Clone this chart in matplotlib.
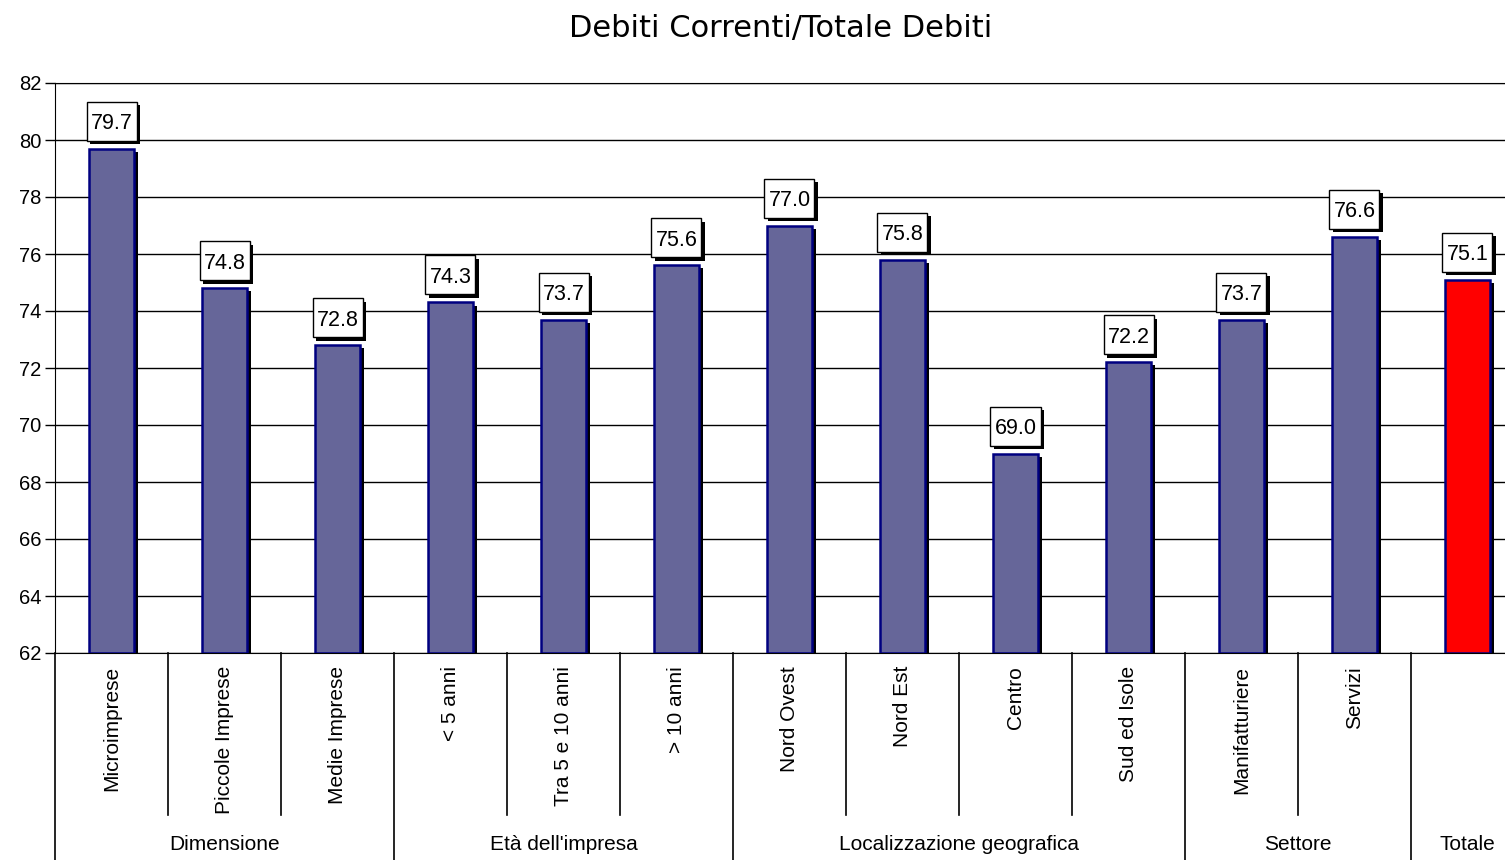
import matplotlib
matplotlib.use("Agg")
import matplotlib.pyplot as plt
import matplotlib.patheffects as pe
import matplotlib.transforms as mtransforms
from matplotlib.patches import Rectangle

plt.rcParams['font.family'] = ['Liberation Sans', 'DejaVu Sans']

# categories and values
categories = ["Microimprese", "Piccole Imprese", "Medie Imprese",
              "< 5 anni", "Tra 5 e 10 anni", "> 10 anni",
              "Nord Ovest", "Nord Est", "Centro", "Sud ed Isole",
              "Manifatturiere", "Servizi", ""]
values = [79.7, 74.8, 72.8, 74.3, 73.7, 75.6, 77.0, 75.8, 69.0, 72.2, 73.7, 76.6, 75.1]
groups = ["Dimensione", "Età dell'impresa", "Localizzazione geografica", "Settore", "Totale"]
group_sizes = [3, 3, 4, 2, 1]

ymin, ymax = 62, 82
bar_color = "#666699"
total_color = "#ff0000"

fig = plt.figure(figsize=(15.05, 8.6), dpi=100)
W, H = 1505, 860
# plot area in pixels: left 55, top 83, bottom 653, one slot = 113 px
ax = fig.add_axes([55 / W, (H - 653) / H, 1469 / W, 570 / H])

n = len(values)
xs = list(range(n))
colors = [bar_color] * (n - 1) + [total_color]
heights = [v - ymin for v in values]

bars = ax.bar(xs, heights, bottom=ymin, width=0.4, color=colors,
              edgecolor="#000080", linewidth=1.8, zorder=3)
for b in bars:
    b.set_path_effects([pe.SimplePatchShadow(offset=(2.5, -2.2), shadow_rgbFace="black", alpha=1.0),
                        pe.Normal()])

# value labels: fixed-size boxes (inches) anchored above each bar top
box_w, box_h, gap = 0.50, 0.39, 0.08
for x, v in zip(xs, values):
    tr = fig.dpi_scale_trans + mtransforms.ScaledTranslation(x, v, ax.transData)
    box = Rectangle((-box_w / 2, gap), box_w, box_h, transform=tr, fc="white",
                    ec="black", lw=1.0, zorder=5, clip_on=False)
    box.set_path_effects([pe.SimplePatchShadow(offset=(2.4, -2.4), shadow_rgbFace="black", alpha=1.0),
                          pe.Normal()])
    ax.add_patch(box)
    ax.text(0, gap + box_h / 2, "%.1f" % v, transform=tr, ha="center",
            va="center_baseline", fontsize=15.5, zorder=6)

ax.set_xlim(-0.5, n - 0.5)
ax.set_ylim(ymin, ymax)
ax.set_yticks(range(ymin, ymax + 1, 2))
ax.tick_params(axis="y", labelsize=14.5, length=7, width=1, pad=3, direction="out")
ax.set_xticks([])
ax.yaxis.grid(True, color="black", linewidth=1.0)
ax.set_axisbelow(True)
ax.spines["right"].set_visible(False)
ax.spines["left"].set_bounds(ymin, ymax)

# hierarchical category axis below the plot
trans = mtransforms.blended_transform_factory(ax.transData, ax.transAxes)
inner_bottom = -(815 - 653) / 570
outer_bottom = -(862 - 653) / 570
ax.plot([-0.5, -0.5], [0, outer_bottom], color="black", lw=1.2, transform=trans, clip_on=False)

start = 0
for g, size in zip(groups, group_sizes):
    end = start + size
    for k in range(start + 1, end):
        ax.plot([k - 0.5, k - 0.5], [0, inner_bottom], color="black", lw=1.2,
                transform=trans, clip_on=False)
    ax.plot([end - 0.5, end - 0.5], [0, outer_bottom], color="black", lw=1.2,
            transform=trans, clip_on=False)
    ax.text((start + end - 1) / 2, -(845 - 653) / 570, g, transform=trans,
            ha="center", va="center", fontsize=15)
    start = end

for x, c in zip(xs, categories):
    ax.text(x, -(666 - 653) / 570, c, transform=trans, rotation=90,
            ha="center", va="top", fontsize=15)

fig.text(781 / W, 1 - 28 / H, "Debiti Correnti/Totale Debiti", ha="center", va="center",
         fontsize=22, family="DejaVu Sans")

fig.savefig("out.png", dpi=100, facecolor="white")
